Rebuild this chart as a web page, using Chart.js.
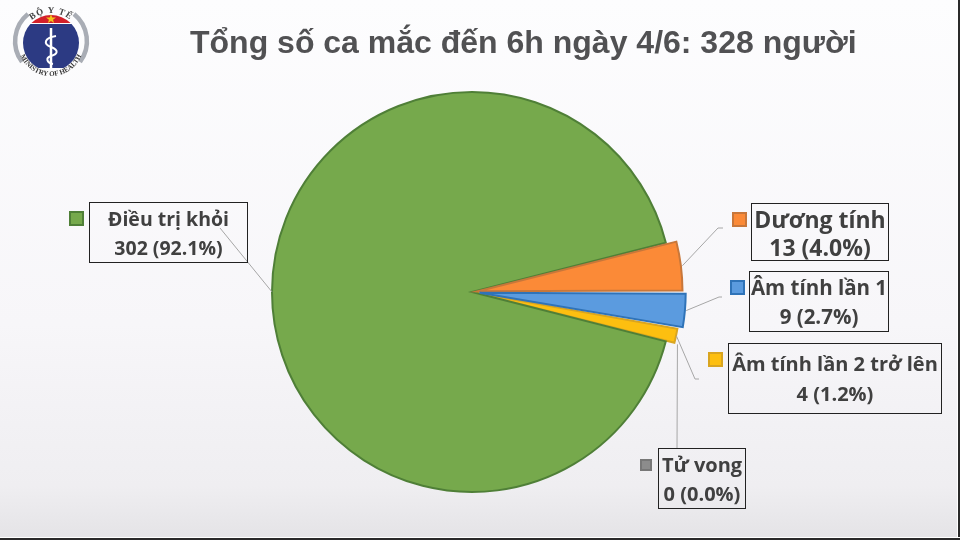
<!DOCTYPE html>
<html lang="vi">
<head>
<meta charset="utf-8">
<title>Tổng số ca mắc</title>
<script src="https://cdn.jsdelivr.net/npm/chart.js@4"></script>
<style>
    html, body { margin: 0; padding: 0; }
    #page {
        position: relative; width: 960px; height: 540px; overflow: hidden;
        background: linear-gradient(180deg, #fdfdfe 0%, #f7f6f9 60%, #efeef1 90%, #e5e4e7 99%);
        font-family: "Open Sans", sans-serif;
    }
    #pie { position: absolute; left: 0; top: 0; }
    #title {
        position: absolute; left: 190px; top: 24px; white-space: nowrap;
        font: bold 32px "Liberation Sans", sans-serif; color: #515153;
    }
    .label {
        position: absolute; box-sizing: border-box; border: 1.5px solid #222; padding-top: 1px;
        color: #404040; font-weight: 700; text-align: center; white-space: nowrap;
        display: flex; flex-direction: column; justify-content: center;
    }
    .swatch { position: absolute; box-sizing: border-box; border: 2px solid; }
    #logo { position: absolute; left: 0; top: 0; }
    #edgeR { position: absolute; right: 0; top: 0; width: 2px; height: 540px; background: #2a2a2a; border-left: 1px solid #fff; }
    #edgeB { position: absolute; left: 0; bottom: 0; width: 960px; height: 2px; background: #2a2a2a; border-top: 1px solid #fff; }
</style>
</head>
<body>
<div id="page">
    <canvas id="pie" width="960" height="540"></canvas>
    <div id="title">Tổng số ca mắc đến 6h ngày 4/6: 328 người</div>
    <svg id="logo" width="100" height="84" viewBox="0 0 100 84">
        <defs>
            <path id="arcTop" d="M21 43 A30 30 0 0 1 81 43"/>
            <path id="arcBot" d="M18 43 A33 33 0 0 0 84 43"/>
            <clipPath id="capClip"><rect x="15" y="10" width="72" height="13"/></clipPath>
            <clipPath id="navyClip"><rect x="15" y="24" width="72" height="44"/></clipPath>
        </defs>
        <path d="M28 14 A35 35 0 0 0 22 62" fill="none" stroke="#a9adb5" stroke-width="4.5"/>
        <path d="M74 14 A35 35 0 0 1 80 62" fill="none" stroke="#a9adb5" stroke-width="4.5"/>
        <circle cx="51" cy="43" r="28" fill="#2c3a83" clip-path="url(#navyClip)"/>
        <circle cx="51" cy="43" r="28" fill="#d3202a" clip-path="url(#capClip)"/>
        <polygon points="51,14 52.2,17.6 56,17.6 53,19.8 54.1,23 51,21 47.9,23 49,19.8 46,17.6 49.8,17.6" fill="#f5c518"/>
        <path d="M51 28 L51 68" stroke="#fff" stroke-width="2.5"/>
        <path d="M56 36 C44 38 43 44 51 47 C59 50 58 54 51 56 C45 58 47 63 53 64" fill="none" stroke="#fff" stroke-width="2"/>
        <text font-size="9" font-weight="bold" fill="#444" font-family="Liberation Serif" letter-spacing="1"><textPath href="#arcTop" startOffset="50%" text-anchor="middle">BỘ Y TẾ</textPath></text>
        <text font-size="7" font-weight="bold" fill="#333" font-family="Liberation Serif"><textPath href="#arcBot" startOffset="50%" text-anchor="middle">MINISTRY OF HEALTH</textPath></text>
    </svg>
    <div id="edgeR"></div>
    <div id="edgeB"></div>
</div>
<script>
    // Данные диаграммы (порядок задаёт, какой сектор рисуется поверх)
    const categories = ['Âm tính lần 2 trở lên', 'Tử vong', 'Điều trị khỏi', 'Dương tính', 'Âm tính lần 1'];
    const cases = [4, 0, 302, 13, 9];
    const fillColors = ['#fdbf10', '#8c8c8c', '#76a94c', '#fb8a37', '#5b9bdf'];
    const edgeColors = ['#d9a520', '#777777', '#4f7f37', '#c8773a', '#2f73b8'];
    const borderWidths = [2, 0, 2, 2, 2];
    const sliceOffsets = [9, 12, 0, 12, 15];

    // Подписи: рамка, квадратик и конец выноски
    const boxes = [[728, 343, 214, 71, 20, 30], [658, 448, 88, 61, 20, 29], [89, 202, 159, 61, 19.5, 29], [751, 203, 138, 58, 23, 28], [749, 271, 140, 61, 20.5, 29]];
    const swatches = [[708, 352, 15], [640, 459, 12], [69, 211, 15], [732, 212, 15], [730, 280, 15]];
    const leaders = [[[695, 379], [699, 379]], [[677, 448]], [[220, 228]], [[718, 228], [723, 228]], [[719, 297], [722, 297]]];

    const total = cases.reduce((a, b) => a + b, 0);
    const page = document.getElementById('page');

    categories.forEach((name, i) => {
        const [x, y, w, h, size, lh] = boxes[i];
        const box = document.createElement('div');
        box.className = 'label';
        box.style.cssText = `left:${x}px;top:${y}px;width:${w}px;height:${h}px;font-size:${size}px;line-height:${lh}px`;
        box.innerHTML = `<div>${name}</div><div>${cases[i]} (${(cases[i] / total * 100).toFixed(1)}%)</div>`;
        page.appendChild(box);

        const [sx, sy, s] = swatches[i];
        const sw = document.createElement('div');
        sw.className = 'swatch';
        sw.style.cssText = `left:${sx}px;top:${sy}px;width:${s}px;height:${s}px;background:${fillColors[i]};border-color:${edgeColors[i]}`;
        page.appendChild(sw);
    });

    // Выноски от секторов к подписям
    const leaderLines = {
        id: 'leaderLines',
        afterDatasetsDraw(chart) {
            const ctx = chart.ctx;
            ctx.save();
            ctx.strokeStyle = '#a6a6a6';
            ctx.lineWidth = 1;
            chart.getDatasetMeta(0).data.forEach((arc, i) => {
                const p = arc.getProps(['x', 'y', 'startAngle', 'endAngle', 'outerRadius']);
                const mid = (p.startAngle + p.endAngle) / 2;
                const r = p.outerRadius + sliceOffsets[i];
                ctx.beginPath();
                ctx.moveTo(p.x + Math.cos(mid) * r, p.y + Math.sin(mid) * r);
                leaders[i].forEach(pt => ctx.lineTo(pt[0], pt[1]));
                ctx.stroke();
            });
            ctx.restore();
        }
    };

    new Chart(document.getElementById('pie'), {
        type: 'pie',
        data: {
            labels: categories,
            datasets: [{
                data: cases,
                backgroundColor: fillColors,
                borderColor: edgeColors,
                borderWidth: borderWidths,
                borderJoinStyle: 'miter',
                // Chart.js сдвигает сектор на offset / 2
                offset: sliceOffsets.map(v => v * 2),
                hoverOffset: 0
            }]
        },
        options: {
            responsive: false,
            animation: false,
            rotation: 99.9,
            radius: 200,
            layout: { padding: { left: 0, right: 16, top: 44, bottom: 0 } },
            plugins: { legend: { display: false }, tooltip: { enabled: false } }
        },
        plugins: [leaderLines]
    });
</script>
</body>
</html>
